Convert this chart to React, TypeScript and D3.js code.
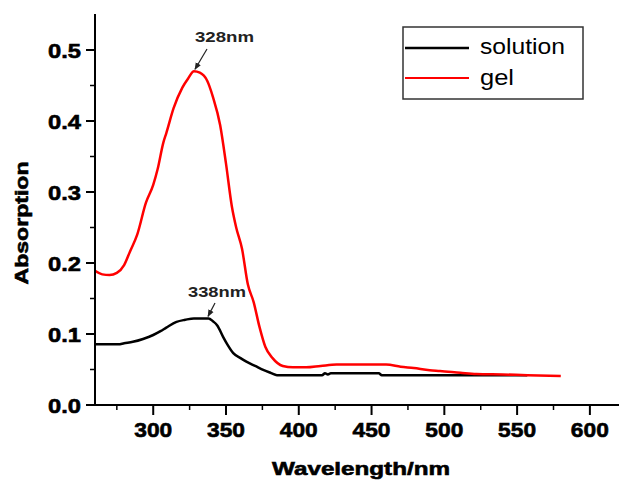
import React from "react";
import * as d3 from "d3";

const gelWavelength = [260, 265, 270, 275, 280, 284, 289, 295, 300, 303, 307, 309, 314, 320, 324, 328, 332, 337, 341, 346, 350, 354, 357, 361, 365, 369, 373, 377, 382, 389, 396, 405, 415, 426, 440, 460, 470, 479, 490, 497, 511, 522, 540, 557, 580];
const gelAbs = [0.189, 0.184, 0.183, 0.186, 0.197, 0.216, 0.240, 0.285, 0.310, 0.332, 0.370, 0.383, 0.418, 0.447, 0.460, 0.470, 0.468, 0.457, 0.434, 0.394, 0.340, 0.280, 0.250, 0.220, 0.170, 0.145, 0.110, 0.082, 0.066, 0.055, 0.053, 0.053, 0.055, 0.057, 0.057, 0.057, 0.054, 0.052, 0.049, 0.048, 0.0455, 0.0437, 0.043, 0.042, 0.041];

const solWavelength = [260, 270, 276, 280, 286, 293, 300, 305, 309, 316, 322, 328, 333, 338, 341, 344, 348, 351, 355, 360, 364, 370, 376, 381, 385, 400, 416, 418, 420, 422, 440, 455, 457, 500, 557];
const solAbs = [0.0855, 0.0855, 0.0855, 0.087, 0.089, 0.093, 0.0986, 0.104, 0.109, 0.117, 0.120, 0.122, 0.122, 0.122, 0.118, 0.112, 0.096, 0.085, 0.073, 0.066, 0.061, 0.055, 0.049, 0.045, 0.042, 0.042, 0.042, 0.0446, 0.043, 0.0446, 0.0446, 0.0446, 0.042, 0.042, 0.042];

const xTicks = [300, 350, 400, 450, 500, 550, 600];
const xMinor = [275, 325, 375, 425, 475, 525, 575];
const yTicks = [0.0, 0.1, 0.2, 0.3, 0.4, 0.5];
const yMinor = [0.05, 0.15, 0.25, 0.35, 0.45];

const seriesNames = ["solution", "gel"];
const seriesColors = ["#000000", "#ff0000"];
const peaks = [
  { label: "328nm", wl: 328, abs: 0.470 },
  { label: "338nm", wl: 338, abs: 0.122 },
];

export default function App() {
  const W = 620, H = 483;
  const x = d3.scaleLinear().domain([260, 620]).range([95, 619]);
  const y = d3.scaleLinear().domain([0, 0.55]).range([405, 14.5]);
  const line = d3.line<[number, number]>().x(d => x(d[0])).y(d => y(d[1])).curve(d3.curveMonotoneX);
  const gelPts = gelWavelength.map((w, i) => [w, gelAbs[i]] as [number, number]);
  const solPts = solWavelength.map((w, i) => [w, solAbs[i]] as [number, number]);
  const bold = "'Liberation Sans', Arial, sans-serif";
  const heavy = { fontFamily: bold, fontWeight: "bold" as const, stroke: "#000", strokeWidth: 0.6 };

  return (
    <svg width={W} height={H} style={{ position: "absolute", left: 0, top: 0, background: "#fff" }}>
      <defs>
        <marker id="ah" viewBox="0 0 10 10" refX="9" refY="5" markerWidth="6" markerHeight="6" orient="auto">
          <path d="M0,1 L10,5 L0,9 z" fill="#222" />
        </marker>
      </defs>
      <rect x={0} y={0} width={W} height={H} fill="#fff" />
      <path d={line(solPts) || ""} fill="none" stroke={seriesColors[0]} strokeWidth={2.5} />
      <path d={line(gelPts) || ""} fill="none" stroke={seriesColors[1]} strokeWidth={2.5} />
      <line x1={95} x2={95} y1={14} y2={406} stroke="#000" strokeWidth={2} />
      <line x1={94} x2={619} y1={405} y2={405} stroke="#000" strokeWidth={2} />
      {yTicks.map(t => (
        <g key={"y" + t}>
          <line x1={86} x2={95} y1={y(t)} y2={y(t)} stroke="#000" strokeWidth={2} />
          <text x={81} y={y(t) + 7.5} textAnchor="end" {...heavy} fontSize={21} textLength={33} lengthAdjust="spacingAndGlyphs">{t.toFixed(1)}</text>
        </g>
      ))}
      {yMinor.map(t => (
        <line key={"ym" + t} x1={90} x2={95} y1={y(t)} y2={y(t)} stroke="#000" strokeWidth={1.5} />
      ))}
      {xTicks.map(t => (
        <g key={"x" + t}>
          <line x1={x(t)} x2={x(t)} y1={405} y2={415} stroke="#000" strokeWidth={2} />
          <text x={x(t)} y={437} textAnchor="middle" {...heavy} fontSize={21} textLength={38} lengthAdjust="spacingAndGlyphs">{t}</text>
        </g>
      ))}
      {xMinor.map(t => (
        <line key={"xm" + t} x1={x(t)} x2={x(t)} y1={405} y2={410} stroke="#000" strokeWidth={1.5} />
      ))}
      <text x={361} y={475} textAnchor="middle" {...heavy} fontSize={19} textLength={178} lengthAdjust="spacingAndGlyphs">Wavelength/nm</text>
      <text transform="translate(28,223) rotate(-90)" textAnchor="middle" {...heavy} fontSize={19} textLength={123} lengthAdjust="spacingAndGlyphs">Absorption</text>
      <text x={195} y={42} fontFamily={bold} fontWeight="bold" fontSize={14} fill="#222" textLength={59} lengthAdjust="spacingAndGlyphs">{peaks[0].label}</text>
      <line x1={207} y1={49} x2={x(peaks[0].wl) + 1} y2={y(peaks[0].abs) - 2} stroke="#222" strokeWidth={1.2} markerEnd="url(#ah)" />
      <text x={188} y={297} fontFamily={bold} fontWeight="bold" fontSize={14} fill="#222" textLength={58} lengthAdjust="spacingAndGlyphs">{peaks[1].label}</text>
      <line x1={215} y1={303} x2={x(peaks[1].wl) - 0.5} y2={y(peaks[1].abs) - 2} stroke="#222" strokeWidth={1.2} markerEnd="url(#ah)" />
      <rect x={403} y={27} width={180} height={72} fill="#fff" stroke="#333" strokeWidth={1.5} />
      {seriesNames.map((n, i) => (
        <g key={n}>
          <line x1={405} x2={469} y1={[48, 78][i]} y2={[48, 78][i]} stroke={seriesColors[i]} strokeWidth={i === 0 ? 2.5 : 2} />
          <text x={480} y={[54, 85][i]} fontFamily={bold} fontSize={22} textLength={i === 0 ? 85 : 34} lengthAdjust="spacingAndGlyphs">{n}</text>
        </g>
      ))}
    </svg>
  );
}
